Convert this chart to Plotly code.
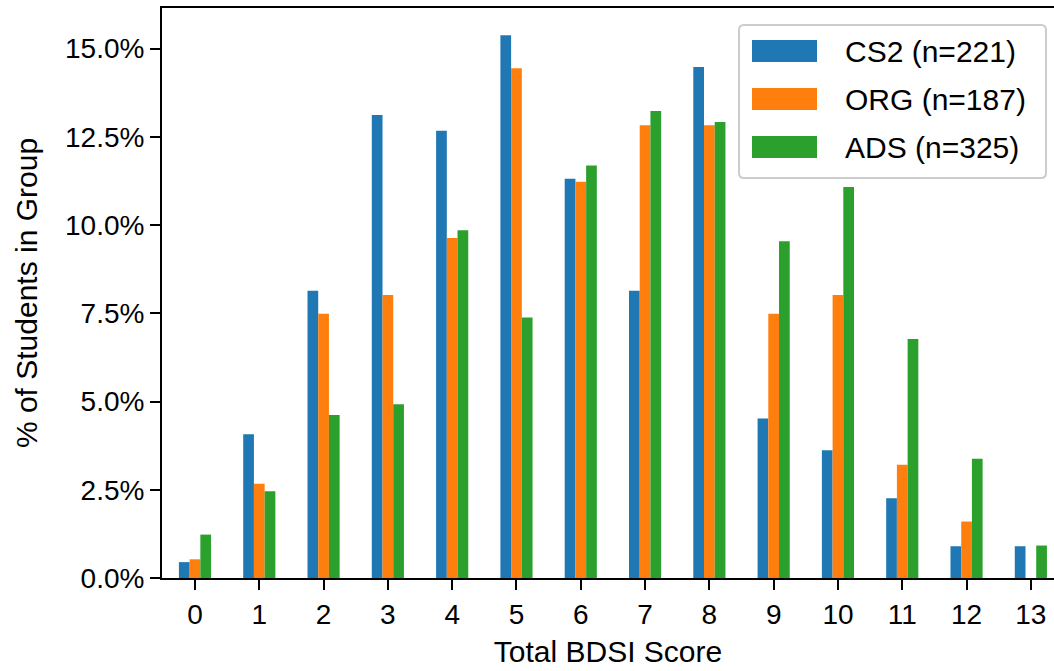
import plotly.graph_objects as go

scores = list(range(14))
series_names = ["CS2 (n=221)", "ORG (n=187)", "ADS (n=325)"]
colors = ["#1f77b4", "#ff7f0e", "#2ca02c"]
cs2 = [0.45, 4.07, 8.14, 13.12, 12.67, 15.38, 11.31, 8.14, 14.48, 4.52, 3.62, 2.26, 0.90, 0.90]
org = [0.53, 2.67, 7.49, 8.02, 9.63, 14.44, 11.23, 12.83, 12.83, 7.49, 8.02, 3.21, 1.60, 0.0]
ads = [1.23, 2.46, 4.62, 4.92, 9.85, 7.38, 11.69, 13.23, 12.92, 9.54, 11.08, 6.77, 3.38, 0.92]
ytick_vals = [0, 2.5, 5, 7.5, 10, 12.5, 15]
ytick_text = ["0.0%", "2.5%", "5.0%", "7.5%", "10.0%", "12.5%", "15.0%"]

FONT = "Liberation Sans"
FS_TICK = 28
FS_TEXT = 30
W, H = 1054, 671
ML, MR, MT, MB = 162, 0, 8, 93
PW, PH = W - ML - MR, H - MT - MB

fig = go.Figure()
for name, vals, c in zip(series_names, [cs2, org, ads], colors):
    fig.add_trace(go.Bar(x=scores, y=vals, name=name, marker=dict(color=c, line=dict(width=0))))

def px2paper(x, y):
    return (x - ML) / PW, (H - MB - y) / PH

# legend box (rounded) drawn in paper coords
x0, y0, x1, y1, r = 739, 25, 1046, 178, 5
def P(x, y):
    a, b = px2paper(x, y)
    return f"{a:.5f},{b:.5f}"
path = (f"M {P(x0+r,y0)} L {P(x1-r,y0)} Q {P(x1,y0)} {P(x1,y0+r)} L {P(x1,y1-r)} Q {P(x1,y1)} {P(x1-r,y1)} "
        f"L {P(x0+r,y1)} Q {P(x0,y1)} {P(x0,y1-r)} L {P(x0,y0+r)} Q {P(x0,y0)} {P(x0+r,y0)} Z")
shapes = [dict(type="path", xref="paper", yref="paper", path=path,
               line=dict(color="#cccccc", width=2), fillcolor="rgba(255,255,255,0.8)", layer="above")]
annotations = []
row_y = [51, 99, 147]
for name, c, yy in zip(series_names, colors, row_y):
    ax0, ay0 = px2paper(752, yy - 11)
    ax1, ay1 = px2paper(817, yy + 11)
    shapes.append(dict(type="rect", xref="paper", yref="paper", x0=ax0, x1=ax1, y0=ay1, y1=ay0,
                       fillcolor=c, line=dict(width=0), layer="above"))
    tx, ty = px2paper(843, yy)
    annotations.append(dict(xref="paper", yref="paper", x=tx, y=ty, text=name, showarrow=False,
                            xanchor="left", yanchor="middle", font=dict(family=FONT, size=FS_TEXT, color="black")))

fig.update_layout(
    width=W, height=H,
    margin=dict(l=ML, r=MR, t=MT, b=MB),
    paper_bgcolor="white", plot_bgcolor="white",
    barmode="group", bargap=0.5, bargroupgap=0,
    showlegend=False,
    font=dict(family=FONT, size=FS_TICK, color="black"),
    shapes=shapes, annotations=annotations,
)
fig.update_xaxes(
    range=[-0.513, 13.36], tickmode="array", tickvals=scores, ticktext=[str(s) for s in scores],
    showgrid=False, zeroline=False, showline=True, linecolor="black", linewidth=2, mirror=True,
    ticks="outside", ticklen=10, tickwidth=2, tickcolor="black",
    title=dict(text="Total BDSI Score", font=dict(size=FS_TEXT), standoff=12),
)
fig.update_yaxes(
    range=[0, 16.15], tickmode="array", tickvals=ytick_vals, ticktext=ytick_text,
    showgrid=False, zeroline=False, showline=True, linecolor="black", linewidth=2, mirror=False,
    ticks="outside", ticklen=10, tickwidth=2, tickcolor="black",
    title=dict(text="% of Students in Group", font=dict(size=FS_TEXT), standoff=18),
)
fig.write_html("out.html")
